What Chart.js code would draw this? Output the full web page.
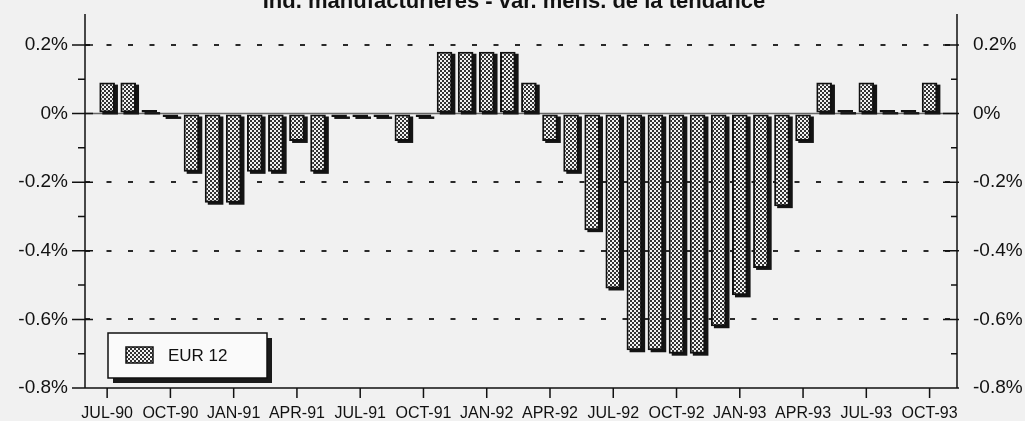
<!DOCTYPE html>
<html>
<head>
<meta charset="utf-8">
<script src="https://cdn.jsdelivr.net/npm/chart.js@4/dist/chart.umd.min.js"></script>
<style>
    html, body { margin: 0; padding: 0; background: #f1f1f1; }
    #wrap { width: 1025px; height: 421px; position: relative; }
</style>
</head>
<body>
<div id="wrap"><canvas id="indChart"></canvas></div>
<script>
const chartTitle = 'Ind. manufacturières - var. mens. de la tendance'
const seriesLabel = 'EUR 12'

// one value per month, JUL-90 .. OCT-93 (in %)
const eur12 = [
    0.09, 0.09, 0.01, -0.01, -0.17, -0.26, -0.26, -0.17, -0.17, -0.08,
    -0.17, -0.01, -0.01, -0.01, -0.08, -0.01, 0.18, 0.18, 0.18, 0.18,
    0.09, -0.08, -0.17, -0.34, -0.51, -0.69, -0.69, -0.70, -0.70, -0.62,
    -0.53, -0.45, -0.27, -0.08, 0.09, 0.01, 0.09, 0.01, 0.01, 0.09,
]

// a label every third month
const tickLabels = [
    'JUL-90', 'OCT-90', 'JAN-91', 'APR-91', 'JUL-91', 'OCT-91', 'JAN-92',
    'APR-92', 'JUL-92', 'OCT-92', 'JAN-93', 'APR-93', 'JUL-93', 'OCT-93',
]

const yTicks = [-0.8, -0.6, -0.4, -0.2, 0, 0.2]
const yMinorTicks = [-0.7, -0.5, -0.3, -0.1, 0.1]

const ink = '#111111'

// stippled fill like the printed bars
function makeStipple() {
    const c = document.createElement('canvas')
    c.width = 4
    c.height = 4
    const g = c.getContext('2d')
    g.fillStyle = '#333333'
    g.fillRect(0, 0, 4, 4)
    g.fillStyle = '#f2f2f2'
    g.fillRect(0, 0, 2, 2)
    g.fillRect(2, 2, 2, 2)
    return g.createPattern(c, 'repeat')
}

const canvas = document.querySelector('#indChart')
const ctx = canvas.getContext('2d')
const stipple = makeStipple()

const pctLabel = (v) => Math.round(v * 10) / 10 + '%'

const backgroundPlugin = {
    id: 'backgroundPlugin',
    beforeDraw(chart) {
        const c = chart.ctx
        c.save()
        c.fillStyle = '#f1f1f1'
        c.fillRect(0, 0, chart.width, chart.height)
        c.restore()
    },
}

// zero line + bar drop shadows
const barDecorPlugin = {
    id: 'barDecorPlugin',
    beforeDatasetsDraw(chart) {
        const c = chart.ctx
        const area = chart.chartArea
        const y0 = chart.scales.y.getPixelForValue(0)
        c.save()
        c.strokeStyle = '#666'
        c.lineWidth = 1.5
        c.beginPath()
        c.moveTo(area.left, y0)
        c.lineTo(area.right, y0)
        c.stroke()

        c.fillStyle = '#141414'
        chart.getDatasetMeta(0).data.forEach((bar) => {
            const w = bar.width
            const top = Math.min(bar.y, bar.base)
            const h = Math.abs(bar.base - bar.y)
            c.fillRect(bar.x - w / 2 + 3, top + 2, w, h)
        })
        c.restore()
    },
}

// axis lines, tick marks, legend box and title
const framePlugin = {
    id: 'framePlugin',
    afterDraw(chart) {
        const c = chart.ctx
        const area = chart.chartArea
        const y = chart.scales.y
        const x = chart.scales.x
        c.save()
        c.strokeStyle = ink
        c.lineWidth = 1.5
        c.beginPath()
        c.moveTo(area.left, area.top)
        c.lineTo(area.left, area.bottom)
        c.lineTo(area.right, area.bottom)
        c.moveTo(area.right, area.top)
        c.lineTo(area.right, area.bottom)

        yTicks.forEach((v) => {
            const p = y.getPixelForValue(v)
            c.moveTo(area.left - 13, p)
            c.lineTo(area.left + 8, p)
            c.moveTo(area.right - 14, p)
            c.lineTo(area.right + 2, p)
        })
        yMinorTicks.forEach((v) => {
            const p = y.getPixelForValue(v)
            c.moveTo(area.left - 7, p)
            c.lineTo(area.left, p)
            c.moveTo(area.right - 6, p)
            c.lineTo(area.right, p)
        })
        x.ticks.forEach((t) => {
            const p = x.getPixelForValue(t.value)
            c.moveTo(p, area.bottom)
            c.lineTo(p, area.bottom + 10)
        })
        c.stroke()

        // legend
        const lx = area.left + 23
        const ly = area.bottom - 55
        const lw = 159
        const lh = 45
        c.fillStyle = '#1a1a1a'
        c.fillRect(lx + 5, ly + 5, lw, lh)
        c.fillStyle = '#fafafa'
        c.fillRect(lx, ly, lw, lh)
        c.lineWidth = 1.5
        c.strokeRect(lx, ly, lw, lh)
        c.fillStyle = stipple
        c.fillRect(lx + 18, ly + 14, 27, 16)
        c.lineWidth = 1.5
        c.strokeRect(lx + 18, ly + 14, 27, 16)
        c.fillStyle = ink
        c.font = '17px "Liberation Sans", Arial, sans-serif'
        c.textBaseline = 'middle'
        c.fillText(chart.data.datasets[0].label, lx + 60, ly + 23)

        // title, cut off at the top edge as in the scan
        c.font = 'bold 22px "Liberation Sans", Arial, sans-serif'
        c.textAlign = 'center'
        c.textBaseline = 'alphabetic'
        c.fillText(chartTitle, 514, 8)
        c.restore()
    },
}

const yScale = (position, width, padding) => ({
    type: 'linear',
    position: position,
    min: -0.8,
    max: 0.29,
    afterBuildTicks: (axis) => {
        axis.ticks = yTicks.map((v) => ({ value: v }))
    },
    afterFit: (axis) => {
        axis.width = width
        axis.paddingTop = 0
        axis.paddingBottom = 0
    },
    grid: {
        display: position === 'left',
        drawOnChartArea: position === 'left',
        drawTicks: false,
        color: (c) =>
            c.tick && (c.tick.value === 0 || c.tick.value === -0.8)
                ? 'rgba(0,0,0,0)'
                : '#2a2a2a',
        lineWidth: 2,
    },
    border: {
        display: false,
        dash: [5, 16.5],
    },
    ticks: {
        padding: padding,
        color: ink,
        font: { size: 19 },
        callback: pctLabel,
    },
})

Chart.defaults.font.family = "'Liberation Sans', Arial, sans-serif"

const config = {
    type: 'bar',
    data: {
        datasets: [
            {
                label: seriesLabel,
                data: eur12.map((v, i) => ({ x: i, y: v })),
                backgroundColor: stipple,
                borderColor: ink,
                borderWidth: 2,
                borderSkipped: false,
                barPercentage: 0.74,
                categoryPercentage: 1,
            },
        ],
    },
    options: {
        responsive: true,
        maintainAspectRatio: false,
        animation: false,
        layout: {
            padding: { top: 14, left: 0, right: 0, bottom: 0 },
        },
        plugins: {
            legend: { display: false },
            tooltip: { enabled: false },
            title: { display: false },
        },
        scales: {
            x: {
                type: 'linear',
                offset: false,
                min: -1.05,
                max: 40.3,
                afterBuildTicks: (axis) => {
                    axis.ticks = tickLabels.map((_, i) => ({ value: i * 3 }))
                },
                afterFit: (axis) => {
                    axis.height = 33
                    axis.paddingLeft = 0
                    axis.paddingRight = 0
                },
                grid: { display: false, drawTicks: false },
                border: { display: false },
                ticks: {
                    autoSkip: false,
                    maxRotation: 0,
                    padding: 16,
                    color: ink,
                    font: { size: 16 },
                    callback: (v) => tickLabels[Math.round(v / 3)],
                },
            },
            y: yScale('left', 85, 17),
            y2: yScale('right', 68, 16),
        },
    },
    plugins: [backgroundPlugin, barDecorPlugin, framePlugin],
}

const indChart = new Chart(ctx, config)
</script>
</body>
</html>
